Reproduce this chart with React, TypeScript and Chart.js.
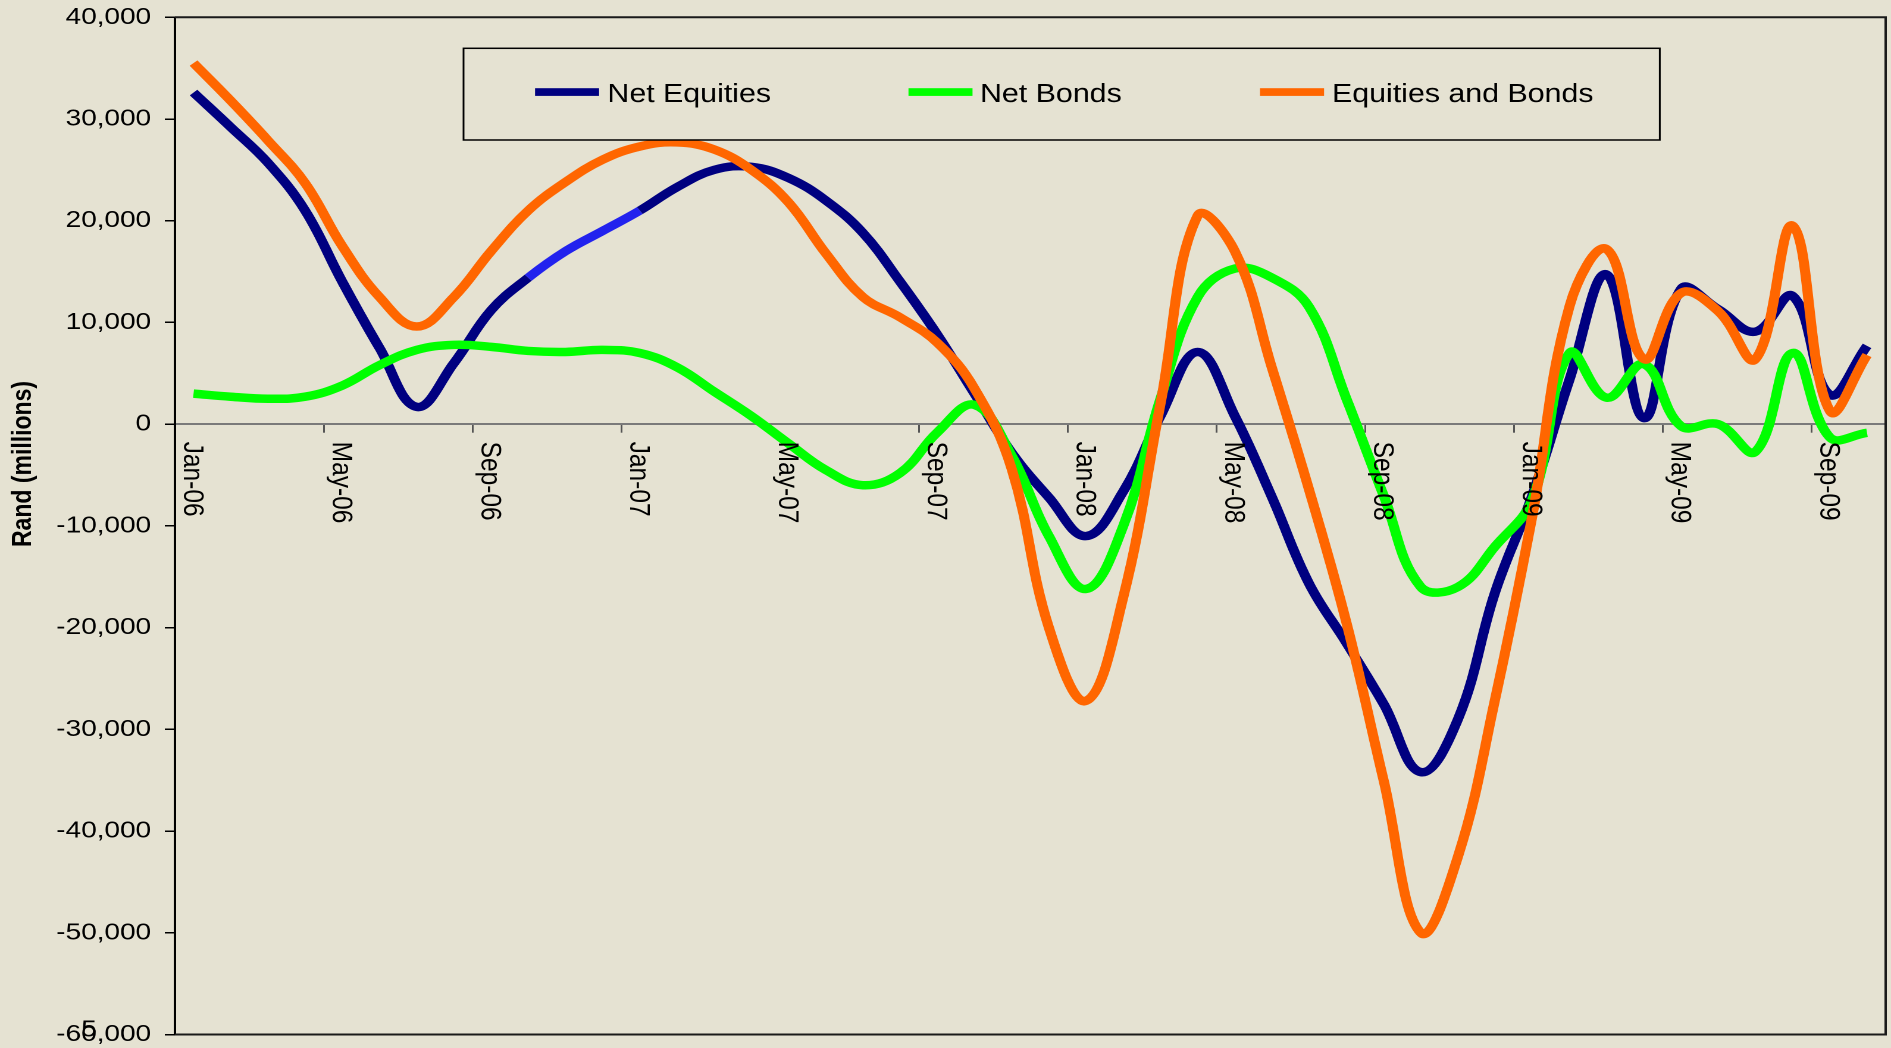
import React, { useEffect, useRef } from 'react';
import { Chart, registerables } from 'chart.js';

Chart.register(...registerables);

const months = [
  'Jan-06', 'Feb-06', 'Mar-06', 'Apr-06', 'May-06', 'Jun-06', 'Jul-06', 'Aug-06', 'Sep-06', 'Oct-06', 'Nov-06', 'Dec-06',
  'Jan-07', 'Feb-07', 'Mar-07', 'Apr-07', 'May-07', 'Jun-07', 'Jul-07', 'Aug-07', 'Sep-07', 'Oct-07', 'Nov-07', 'Dec-07',
  'Jan-08', 'Feb-08', 'Mar-08', 'Apr-08', 'May-08', 'Jun-08', 'Jul-08', 'Aug-08', 'Sep-08', 'Oct-08', 'Nov-08', 'Dec-08',
  'Jan-09', 'Feb-09', 'Mar-09', 'Apr-09', 'May-09', 'Jun-09', 'Jul-09', 'Aug-09', 'Sep-09', 'Oct-09',
];

const netEquities = [
  32600, 29200, 25700, 21000, 14000, 7500, 1700, 6000, 11200, 14400, 17000, 19000,
  21000, 23300, 25000, 25300, 24200, 22000, 18800, 14000, 8800, 3000, -2800, -7200,
  -11000, -6600, 800, 7100, 800, -7200, -15700, -21500, -27500, -34200, -29000, -16500,
  -7000, 4400, 14700, 600, 13300, 11300, 9100, 12600, 2900, 7700,
];

const netBonds = [
  3000, 2700, 2500, 2700, 3800, 5800, 7300, 7800, 7600, 7200, 7100, 7300,
  7000, 5600, 3200, 800, -1900, -4500, -6000, -4800, -800, 1900, -3100, -11000,
  -16200, -10000, 2500, 12500, 15300, 14400, 11500, 2500, -7000, -16000, -16000, -12000,
  -7400, 7000, 2600, 5900, -200, 0, -2700, 7000, -1300, -850,
];

const equitiesAndBonds = [
  35500, 31800, 27900, 23700, 17500, 12500, 9600, 12500, 17000, 21000, 23800, 26000,
  27300, 27700, 27000, 25000, 21800, 16800, 12500, 10500, 8000, 3500, -4400, -20000,
  -27200, -17000, 2000, 20500, 17000, 5500, -6500, -19500, -35000, -50000, -42500, -27000,
  -9000, 11600, 17200, 6400, 12900, 11100, 6400, 19500, 1300, 6800,
];

const Y_MIN = -60000;
const Y_MAX = 40000;
const Y_STEP = 10000;
const yAxisTitle = 'Rand (millions)';
const overlapDigit = '5';

const LOGICAL_W = 1589;
const LOGICAL_H = 1048;
const STRETCH = 1891 / LOGICAL_W;
const FONT = '"Liberation Sans", Arial, sans-serif';
const BG = '#E5E2D2';

const COLORS = {
  equities: '#000080',
  equitiesBright: '#2222EE',
  bonds: '#00FF00',
  both: '#FF6600',
};

const framePlugin = {
  id: 'frame',
  beforeDatasetsDraw(chart: any) {
    const { ctx, chartArea } = chart;
    ctx.save();
    ctx.strokeStyle = '#1a1a1a';
    ctx.lineWidth = 2;
    ctx.beginPath();
    ctx.moveTo(chartArea.left, chartArea.top);
    ctx.lineTo(chartArea.right, chartArea.top);
    ctx.lineTo(chartArea.right, chartArea.bottom);
    ctx.lineTo(chartArea.left, chartArea.bottom);
    ctx.stroke();
    ctx.restore();
  },
};

const legendPlugin = {
  id: 'customLegend',
  afterDatasetsDraw(chart: any) {
    const { ctx } = chart;
    const box = { x: 389.5, y: 48.3, w: 1005.2, h: 91.7 };
    ctx.save();
    ctx.fillStyle = BG;
    ctx.fillRect(box.x, box.y, box.w, box.h);
    ctx.strokeStyle = '#000';
    ctx.lineWidth = 1.5;
    ctx.strokeRect(box.x, box.y, box.w, box.h);
    const items = [
      { label: chart.data.datasets[2].label, color: COLORS.equities, sx: 449.6, tx: 510.4 },
      { label: chart.data.datasets[1].label, color: COLORS.bonds, sx: 763.4, tx: 823.5 },
      { label: chart.data.datasets[0].label, color: COLORS.both, sx: 1058.8, tx: 1119.3 },
    ];
    const cy = 94;
    ctx.font = `25.5px ${FONT}`;
    ctx.textBaseline = 'middle';
    ctx.textAlign = 'left';
    items.forEach((it) => {
      ctx.fillStyle = it.color;
      ctx.fillRect(it.sx, cy - 5.8, 53.8, 7.7);
      ctx.fillStyle = '#000';
      ctx.fillText(it.label, it.tx, cy + 1);
    });
    ctx.restore();
  },
};

const textPlugin = {
  id: 'extraText',
  afterDraw(chart: any) {
    const { ctx } = chart;
    const xs = chart.scales.x;
    const ys = chart.scales.y;
    const y0 = ys.getPixelForValue(0);
    ctx.save();
    ctx.fillStyle = '#000';
    // x category labels, rotated clockwise
    ctx.font = `24.5px ${FONT}`;
    ctx.textAlign = 'left';
    ctx.textBaseline = 'middle';
    months.forEach((m, i) => {
      if (i % 4 !== 0) return;
      const x = xs.getPixelForValue(i) - 1.5;
      ctx.save();
      ctx.translate(x, y0 + 17.5);
      ctx.rotate(Math.PI / 2);
      ctx.fillText(m, 0, 0);
      ctx.restore();
    });
    // y axis title
    ctx.font = `bold 23px ${FONT}`;
    ctx.textAlign = 'center';
    ctx.save();
    ctx.translate(19.8, 464);
    ctx.rotate(-Math.PI / 2);
    ctx.fillText(yAxisTitle, 0, 0);
    ctx.restore();
    // overlapping digit on the bottom tick label
    ctx.font = `23.5px ${FONT}`;
    ctx.textAlign = 'left';
    const bottomLabel = Y_MIN.toLocaleString('en-US');
    const rightX = ys.right - 8.5 - 11.5;
    const px = rightX - ctx.measureText(bottomLabel).width + ctx.measureText(bottomLabel.slice(0, 2)).width;
    ctx.fillText(overlapDigit, px, ys.getPixelForValue(Y_MIN) - 4.5);
    ctx.restore();
  },
};

export default function App() {
  const canvasRef = useRef<HTMLCanvasElement | null>(null);

  useEffect(() => {
    document.body.style.margin = '0';
    document.body.style.overflow = 'hidden';
    const canvas = canvasRef.current;
    if (!canvas) return;
    const chart = new Chart(canvas, {
      type: 'line',
      data: {
        labels: months,
        datasets: [
          {
            label: 'Equities and Bonds',
            data: equitiesAndBonds,
            borderColor: COLORS.both,
            order: 0,
          },
          {
            label: 'Net Bonds',
            data: netBonds,
            borderColor: COLORS.bonds,
            order: 1,
          },
          {
            label: 'Net Equities',
            data: netEquities,
            borderColor: COLORS.equities,
            order: 2,
            segment: {
              borderColor: (c: any) =>
                c.p0DataIndex >= 9 && c.p0DataIndex <= 11 ? COLORS.equitiesBright : undefined,
            },
          },
        ],
      },
      options: {
        animation: false,
        responsive: true,
        maintainAspectRatio: false,
        devicePixelRatio: 2,
        layout: { padding: { top: 17.3, right: 4.5, bottom: 13.5, left: 0 } },
        elements: {
          line: { borderWidth: 8.5, tension: 0.4, fill: false, borderCapStyle: 'butt', borderJoinStyle: 'round' },
          point: { radius: 0, hoverRadius: 0 },
        },
        plugins: {
          legend: { display: false },
          title: { display: false },
          tooltip: { enabled: false },
        },
        events: [],
        scales: {
          x: {
            type: 'category',
            offset: true,
            position: { y: 0 } as any,
            ticks: { display: false },
            grid: {
              offset: true,
              drawOnChartArea: false,
              tickLength: 7.7,
              lineWidth: 1.5,
              color: (c: any) => (c.index !== undefined && c.index % 4 === 0 ? '#555' : 'rgba(0,0,0,0)'),
            },
            border: { color: '#7a7a7a', width: 2 },
            afterFit: (s: any) => {
              s.height = 0;
              s.paddingLeft = 0;
              s.paddingRight = 0;
              s.paddingTop = 0;
              s.paddingBottom = 0;
            },
          },
          y: {
            min: Y_MIN,
            max: Y_MAX,
            ticks: {
              stepSize: Y_STEP,
              color: '#000',
              padding: 11.5,
              font: { family: FONT, size: 23.5, lineHeight: 1 },
              callback: (v: any) => Number(v).toLocaleString('en-US'),
            },
            grid: { drawOnChartArea: false, tickLength: 8.5, color: '#000', lineWidth: 1.5 },
            border: { color: '#000', width: 2 },
            afterFit: (s: any) => {
              s.width = 147;
              s.paddingTop = 0;
              s.paddingBottom = 0;
            },
          },
        },
      },
      plugins: [framePlugin, legendPlugin, textPlugin],
    });
    return () => chart.destroy();
  }, []);

  return (
    <div style={{ position: 'fixed', inset: 0, background: BG, overflow: 'hidden' }}>
      <div
        style={{
          position: 'absolute',
          left: 0,
          top: 0,
          width: LOGICAL_W + 'px',
          height: LOGICAL_H + 'px',
          transform: `scaleX(${STRETCH})`,
          transformOrigin: '0 0',
        }}
      >
        <canvas ref={canvasRef} />
      </div>
    </div>
  );
}
